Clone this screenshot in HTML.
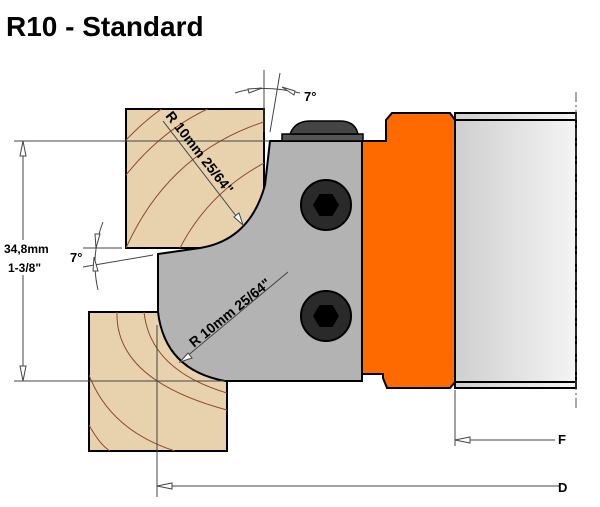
<!DOCTYPE html>
<html><head><meta charset="utf-8"><style>
body{margin:0;background:#fff;width:600px;height:502px;overflow:hidden}
svg text{font-family:"Liberation Sans",sans-serif;font-weight:bold}
</style></head><body>
<svg width="600" height="502" viewBox="0 0 600 502" xmlns="http://www.w3.org/2000/svg">
<defs>
<linearGradient id="sh" x1="0" x2="1" y1="0" y2="0"><stop offset="0" stop-color="#cfcfcf"/><stop offset="1" stop-color="#f4f4f4"/></linearGradient>
<clipPath id="w1"><rect x="126" y="109" width="138" height="139"/></clipPath>
<clipPath id="w2"><rect x="89" y="312" width="138" height="139"/></clipPath>
</defs>
<text x="6" y="36" font-size="28" fill="#000">R10 - Standard</text>

<rect x="455" y="113" width="121" height="275" fill="url(#sh)" stroke="#000" stroke-width="2"/>
<line x1="455" y1="120" x2="576" y2="120" stroke="#000" stroke-width="2"/>
<line x1="455" y1="382" x2="576" y2="382" stroke="#000" stroke-width="2"/>
<line x1="576" y1="92" x2="576" y2="410" stroke="#555" stroke-width="1" stroke-dasharray="10,3,2,3"/>
<path d="M362 141 L386 141 L386 120 L392 113 L450 113 L455 120 L455 382 L450 388 L387 388 L383 378 L383 374 L362 374 Z" fill="#ff6a00" stroke="#000" stroke-width="2"/>

<rect x="126" y="109" width="138" height="139" fill="#e8d2ae" stroke="#000" stroke-width="2"/>
<g clip-path="url(#w1)" stroke="#8b4a2b" stroke-width="1" fill="none">
<path d="M126 140 Q150 115 175 100"/><path d="M126 175 Q170 120 230 100"/><path d="M126 248 Q170 150 270 120"/><path d="M180 248 Q210 190 270 160"/>
</g>
<rect x="89" y="312" width="138" height="139" fill="#e8d2ae" stroke="#000" stroke-width="2"/>
<g clip-path="url(#w2)" stroke="#8b4a2b" stroke-width="1" fill="none">
<path d="M117 312 Q115 380 227 410"/><path d="M144 312 Q150 370 227 393"/><path d="M89 375 Q110 430 175 451"/><path d="M89 425 Q100 445 110 451"/>
</g>

<path d="M270 141 L362 141 L362 381 L225 381 Q165 370 158 312 L158 254 L200 248 Q250 240 265 185 Z" fill="#b3b3b3" stroke="#000" stroke-width="2"/>
<rect x="282" y="134" width="81" height="7" fill="#555" stroke="#000" stroke-width="1.5"/>
<path d="M290 134 Q295 121 310 121 L340 121 Q355 121 358 134 Z" fill="#444" stroke="#000" stroke-width="1.5"/>
<circle cx="326" cy="205" r="25" fill="#2a2a2a" stroke="#000" stroke-width="2"/>
<polygon points="313,205 319.5,194 332.5,194 339,205 332.5,216 319.5,216" fill="#000"/>
<circle cx="326" cy="316" r="25" fill="#2a2a2a" stroke="#000" stroke-width="2"/>
<polygon points="313,316 319.5,305 332.5,305 339,316 332.5,327 319.5,327" fill="#000"/>

<g stroke="#444" stroke-width="1" fill="none">
<line x1="14" y1="141" x2="270" y2="141"/>
<line x1="14" y1="381" x2="225" y2="381"/>
<line x1="23" y1="141" x2="23" y2="240"/><line x1="23" y1="275" x2="23" y2="381"/>
<line x1="157" y1="325" x2="157" y2="497"/>
<line x1="157" y1="486" x2="560" y2="486"/>
<line x1="455" y1="390" x2="455" y2="446"/>
<line x1="455" y1="440" x2="555" y2="440"/>
<line x1="264" y1="70" x2="264" y2="132"/>
<line x1="280" y1="73" x2="270" y2="132"/>
<path d="M235 93 Q262 84 300 93"/>
<line x1="83" y1="248" x2="122" y2="248"/>
<line x1="83" y1="267" x2="153" y2="255"/>
<path d="M103 222 Q90 255 98 290"/>
<line x1="163" y1="121" x2="243" y2="225"/>
<line x1="180" y1="362" x2="288" y2="272"/>
</g>
<g fill="#fff" stroke="#444" stroke-width="1">
<polygon points="23,381 20,366 26,366"/><polygon points="23,141 20,156 26,156"/>
<polygon points="157,486 172,483 172,489"/><polygon points="455,440 470,437 470,443"/>
<polygon points="243,225 234,217 239,213"/><polygon points="180,362 188,353 192,358"/>
<polygon points="262,88 248,89 249,93"/><polygon points="282,87 295,91 294,95"/>
<polygon points="96,248 95,234 100,234"/><polygon points="94,257 93,271 98,271"/>
</g>
<g font-size="13" fill="#000">
<text x="304" y="101">7°</text>
<text x="70" y="262">7°</text>
<text x="4" y="253" font-size="12">34,8mm</text>
<text x="8" y="272" font-size="12">1-3/8"</text>
<text x="558" y="444">F</text>
<text x="558" y="492">D</text>
<text transform="translate(165,116) rotate(52)" font-size="14">R 10mm  25/64"</text>
<text transform="translate(194,348) rotate(-39)" font-size="14">R 10mm  25/64"</text>
</g>
</svg>
</body></html>
